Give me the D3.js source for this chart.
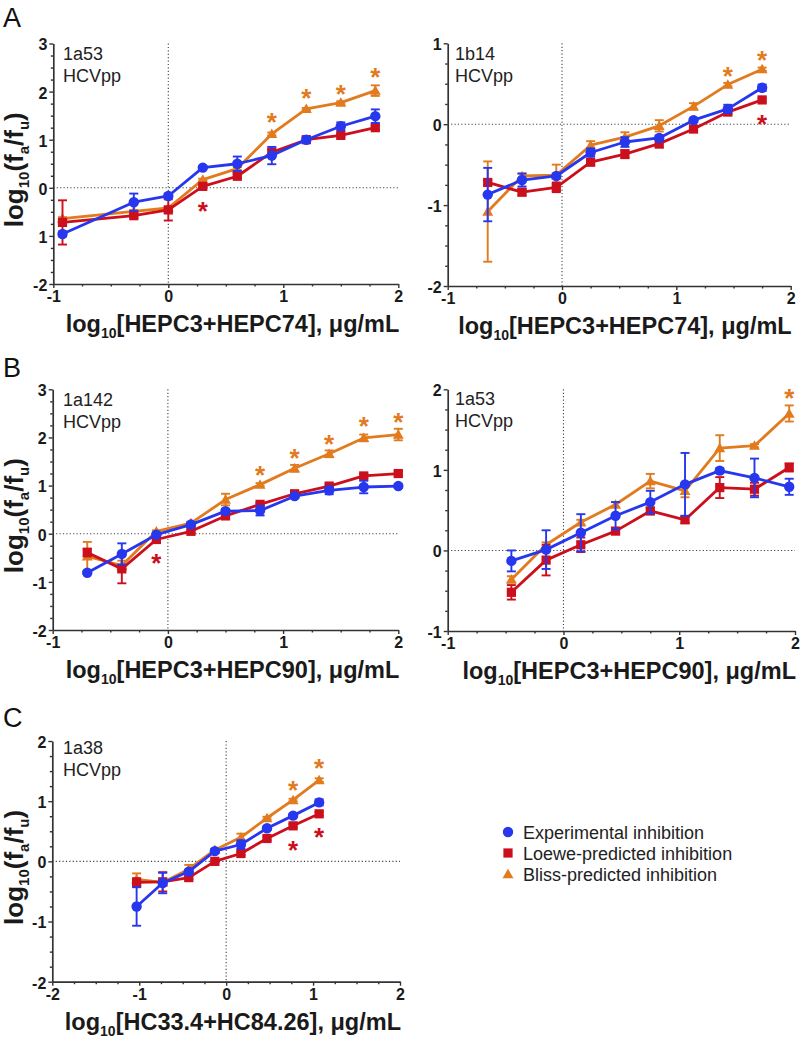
<!DOCTYPE html>
<html><head><meta charset="utf-8">
<script src="https://cdn.jsdelivr.net/npm/d3@7"></script>
<style>body{margin:0;background:#fff}svg{display:block;font-family:Arial,"Liberation Sans",sans-serif}</style>
</head><body><svg id="c" width="802" height="1042"></svg>
<script>
// ---------- DATA ----------
// Panel A1: 1a53 HCVpp, HEPC3+HEPC74
const xA1 = [-0.92, -0.3, 0, 0.3, 0.6, 0.9, 1.2, 1.5, 1.8];
const expA1 = [-0.96, -0.30, -0.17, 0.42, 0.50, 0.67, 1.00, 1.28, 1.49];
const expErrA1 = [0.05, 0.18, 0.05, 0.03, 0.15, 0.18, 0.06, 0.08, 0.14];
const loeweA1 = [-0.72, -0.58, -0.46, 0.03, 0.24, 0.74, 1.00, 1.09, 1.25];
const loeweErrA1 = [0.46, 0.04, 0.22, 0.03, 0.04, 0.05, 0.04, 0.03, 0.04];
const blissA1 = [-0.64, -0.49, -0.42, 0.17, 0.40, 1.12, 1.64, 1.77, 2.02];
const blissErrA1 = [0.03, 0.03, 0.03, 0.02, 0.03, 0.03, 0.02, 0.03, 0.11];
const starBlissXA1 = [0.9, 1.2, 1.5, 1.8], starBlissYA1 = [1.50, 2.01, 2.08, 2.45];
const starLoeweXA1 = [0.3], starLoeweYA1 = [-0.35];

// Panel A2: 1b14 HCVpp
const xA2 = [-0.65, -0.35, -0.05, 0.25, 0.55, 0.85, 1.15, 1.45, 1.75];
const expA2 = [-0.87, -0.69, -0.64, -0.35, -0.22, -0.17, 0.05, 0.19, 0.45];
const expErrA2 = [0.33, 0.08, 0.03, 0.05, 0.06, 0.03, 0.02, 0.05, 0.04];
const loeweA2 = [-0.72, -0.84, -0.78, -0.47, -0.37, -0.24, -0.06, 0.15, 0.30];
const loeweErrA2 = [0.03, 0.04, 0.06, 0.03, 0.05, 0.05, 0.02, 0.03, 0.02];
const blissA2 = [-1.08, -0.64, -0.63, -0.26, -0.16, -0.02, 0.22, 0.49, 0.68];
const blissErrA2 = [0.62, 0.03, 0.13, 0.05, 0.06, 0.07, 0.04, 0.02, 0.02];
const starBlissXA2 = [1.45, 1.75], starBlissYA2 = [0.68, 0.87];
const starLoeweXA2 = [1.75], starLoeweYA2 = [0.09];

// Panel B1: 1a142 HCVpp, HEPC3+HEPC90
const xB1 = [-0.7, -0.4, -0.1, 0.2, 0.5, 0.8, 1.1, 1.4, 1.7, 2.0];
const expB1 = [-0.81, -0.42, -0.02, 0.19, 0.47, 0.48, 0.78, 0.90, 0.97, 0.99];
const expErrB1 = [0.03, 0.22, 0.04, 0.05, 0.04, 0.10, 0.04, 0.08, 0.13, 0.04];
const loeweB1 = [-0.39, -0.73, -0.12, 0.05, 0.37, 0.61, 0.83, 0.99, 1.20, 1.25];
const loeweErrB1 = [0.08, 0.30, 0.03, 0.03, 0.04, 0.03, 0.03, 0.04, 0.04, 0.05];
const blissB1 = [-0.47, -0.66, 0.05, 0.22, 0.71, 1.02, 1.36, 1.66, 1.99, 2.06];
const blissErrB1 = [0.30, 0.10, 0.02, 0.03, 0.12, 0.03, 0.07, 0.07, 0.07, 0.12];
const starBlissXB1 = [0.8, 1.1, 1.4, 1.7, 2.0], starBlissYB1 = [1.36, 1.72, 2.00, 2.37, 2.46];
const starLoeweXB1 = [-0.1], starLoeweYB1 = [-0.47];

// Panel B2: 1a53 HCVpp, HEPC3+HEPC90
const xB2 = [-0.45, -0.15, 0.15, 0.45, 0.75, 1.05, 1.35, 1.65, 1.95];
const expB2 = [-0.13, 0.01, 0.22, 0.43, 0.60, 0.82, 0.99, 0.90, 0.79];
const expErrB2 = [0.13, 0.24, 0.23, 0.17, 0.14, 0.39, 0.03, 0.24, 0.10];
const loeweB2 = [-0.52, -0.12, 0.07, 0.24, 0.49, 0.38, 0.78, 0.76, 1.03];
const loeweErrB2 = [0.09, 0.19, 0.09, 0.03, 0.04, 0.04, 0.13, 0.08, 0.05];
const blissB2 = [-0.36, 0.07, 0.35, 0.57, 0.86, 0.74, 1.27, 1.30, 1.70];
const blissErrB2 = [0.04, 0.03, 0.03, 0.03, 0.09, 0.08, 0.16, 0.02, 0.10];
const starBlissXB2 = [1.95], starBlissYB2 = [1.98];
const starLoeweXB2 = [], starLoeweYB2 = [];

// Panel C: 1a38 HCVpp, HC33.4+HC84.26
const xC = [-1.03, -0.73, -0.43, -0.13, 0.17, 0.47, 0.77, 1.07];
const expC = [-0.75, -0.36, -0.17, 0.17, 0.28, 0.55, 0.76, 0.98];
const expErrC = [0.32, 0.17, 0.03, 0.03, 0.07, 0.03, 0.03, 0.05];
const loeweC = [-0.35, -0.34, -0.27, 0.00, 0.13, 0.38, 0.59, 0.79];
const loeweErrC = [0.07, 0.16, 0.03, 0.02, 0.03, 0.03, 0.03, 0.03];
const blissC = [-0.30, -0.35, -0.13, 0.19, 0.40, 0.72, 1.02, 1.35];
const blissErrC = [0.10, 0.03, 0.07, 0.02, 0.06, 0.02, 0.02, 0.03];
const starBlissXC = [0.77, 1.07], starBlissYC = [1.30, 1.66];
const starLoeweXC = [0.77, 1.07], starLoeweYC = [0.30, 0.51];

// Tick labels
const yTicksA1 = [-2, -1, 0, 1, 2, 3], yTickLabelsA1 = ["-2", "1", "0", "1", "2", "3"];
const yTicksA2 = [-2, -1, 0, 1], yTickLabelsA2 = ["-2", "-1", "0", "1"];
const yTicksB1 = [-2, -1, 0, 1, 2, 3], yTickLabelsB1 = ["-2", "-1", "0", "1", "2", "3"];
const yTicksB2 = [-1, 0, 1, 2], yTickLabelsB2 = ["-1", "0", "1", "2"];
const yTicksC = [-2, -1, 0, 1, 2], yTickLabelsC = ["-2", "-1", "0", "1", "2"];
const xTicksAB = [-1, 0, 1, 2], xTickLabelsAB = ["-1", "0", "1", "2"];
const xTicksC = [-2, -1, 0, 1, 2], xTickLabelsC = ["-2", "-1", "0", "1", "2"];

const seriesNames = ["Experimental inhibition", "Loewe-predicted inhibition", "Bliss-predicted inhibition"];
const panelLetters = ["A", "B", "C"];

// ---------- STYLE / LAYOUT ----------
const COL = { exp: "#2637ee", loewe: "#cc0f1c", bliss: "#e27a1e" };
const svg = d3.select("#c");

const panels = [
  { x: xA1, exp: expA1, expErr: expErrA1, loewe: loeweA1, loeweErr: loeweErrA1, bliss: blissA1, blissErr: blissErrA1,
    sbx: starBlissXA1, sby: starBlissYA1, slx: starLoeweXA1, sly: starLoeweYA1,
    xd: [-1, 2], yd: [-2, 3], xr: [53.3, 398.3], yr: [284, 43.5], yt: yTicksA1, ytl: yTickLabelsA1, xt: xTicksAB, xtl: xTickLabelsAB,
    name: ["1a53", "HCVpp"], nameX: 63, nameY: 60, xlab: ["HEPC3+HEPC74"], showY: true },
  { x: xA2, exp: expA2, expErr: expErrA2, loewe: loeweA2, loeweErr: loeweErrA2, bliss: blissA2, blissErr: blissErrA2,
    sbx: starBlissXA2, sby: starBlissYA2, slx: starLoeweXA2, sly: starLoeweYA2,
    xd: [-1, 2], yd: [-2, 1], xr: [447.7, 790.7], yr: [286, 43.3], yt: yTicksA2, ytl: yTickLabelsA2, xt: xTicksAB, xtl: xTickLabelsAB,
    name: ["1b14", "HCVpp"], nameX: 455, nameY: 60, xlab: ["HEPC3+HEPC74"], showY: false },
  { x: xB1, exp: expB1, expErr: expErrB1, loewe: loeweB1, loeweErr: loeweErrB1, bliss: blissB1, blissErr: blissErrB1,
    sbx: starBlissXB1, sby: starBlissYB1, slx: starLoeweXB1, sly: starLoeweYB1,
    xd: [-1, 2], yd: [-2, 3], xr: [52.7, 398.3], yr: [630, 389.3], yt: yTicksB1, ytl: yTickLabelsB1, xt: xTicksAB, xtl: xTickLabelsAB,
    name: ["1a142", "HCVpp"], nameX: 63, nameY: 406, xlab: ["HEPC3+HEPC90"], showY: true },
  { x: xB2, exp: expB2, expErr: expErrB2, loewe: loeweB2, loeweErr: loeweErrB2, bliss: blissB2, blissErr: blissErrB2,
    sbx: starBlissXB2, sby: starBlissYB2, slx: starLoeweXB2, sly: starLoeweYB2,
    xd: [-1, 2], yd: [-1, 2], xr: [447.7, 795], yr: [631, 389.3], yt: yTicksB2, ytl: yTickLabelsB2, xt: xTicksAB, xtl: xTickLabelsAB,
    name: ["1a53", "HCVpp"], nameX: 455, nameY: 405, xlab: ["HEPC3+HEPC90"], showY: false },
  { x: xC, exp: expC, expErr: expErrC, loewe: loeweC, loeweErr: loeweErrC, bliss: blissC, blissErr: blissErrC,
    sbx: starBlissXC, sby: starBlissYC, slx: starLoeweXC, sly: starLoeweYC,
    xd: [-2, 2], yd: [-2, 2], xr: [52.3, 400], yr: [981.7, 741], yt: yTicksC, ytl: yTickLabelsC, xt: xTicksC, xtl: xTickLabelsC,
    name: ["1a38", "HCVpp"], nameX: 63, nameY: 754, xlab: ["HC33.4+HC84.26"], showY: true }
];

const AX = "#333";
const sym = {
  exp: d3.symbol().type(d3.symbolCircle).size(85),
  loewe: d3.symbol().type(d3.symbolSquare).size(85),
  bliss: d3.symbol().type(d3.symbolTriangle).size(52)
};

function minorTicks(d) {
  const out = [];
  for (let v = d[0]; v <= d[1] + 1e-9; v += 0.25) if (Math.abs(v - Math.round(v)) > 1e-6) out.push(v);
  return out;
}

panels.forEach(p => {
  const x = d3.scaleLinear().domain(p.xd).range(p.xr);
  const y = d3.scaleLinear().domain(p.yd).range(p.yr);
  const g = svg.append("g");

  // dotted reference lines
  g.append("line").attr("x1", x(0)).attr("x2", x(0)).attr("y1", p.yr[1]).attr("y2", p.yr[0])
    .attr("stroke", "#444").attr("stroke-width", 1.1).attr("stroke-dasharray", "1.2,2.2");
  g.append("line").attr("x1", p.xr[0]).attr("x2", p.xr[1]).attr("y1", y(0)).attr("y2", y(0))
    .attr("stroke", "#444").attr("stroke-width", 1.1).attr("stroke-dasharray", "1.2,2.2");

  // axes
  const yAxis = g.append("g").attr("transform", `translate(${p.xr[0]},0)`)
    .call(d3.axisLeft(y).tickValues(p.yt).tickFormat((d, i) => p.ytl[i]).tickSize(4).tickSizeOuter(0).tickPadding(2));
  g.append("g").attr("transform", `translate(${p.xr[0]},0)`)
    .call(d3.axisLeft(y).tickValues(minorTicks(p.yd)).tickFormat("").tickSize(2.5).tickSizeOuter(0))
    .select(".domain").remove();
  const xAxis = g.append("g").attr("transform", `translate(0,${p.yr[0]})`)
    .call(d3.axisBottom(x).tickValues(p.xt).tickFormat((d, i) => p.xtl[i]).tickSize(4).tickSizeOuter(0).tickPadding(3));
  g.append("g").attr("transform", `translate(0,${p.yr[0]})`)
    .call(d3.axisBottom(x).tickValues(minorTicks(p.xd)).tickFormat("").tickSize(2.5).tickSizeOuter(0))
    .select(".domain").remove();
  g.selectAll(".domain").attr("stroke", AX).attr("stroke-width", 1.7);
  g.selectAll(".tick line").attr("stroke", AX).attr("stroke-width", 1.4);
  g.selectAll(".tick text").attr("fill", "#1a1a1a")
    .style("font-size", "16px").style("font-weight", "bold").style("font-family", "Arial, 'Liberation Sans', sans-serif");
  yAxis.selectAll(".tick text").attr("dy", "0.4em");

  // series
  const order = [["bliss", "blissErr"], ["loewe", "loeweErr"], ["exp", "expErr"]];
  order.forEach(([k, ke]) => {
    const pts = p.x.map((xv, i) => ({ x: xv, y: p[k][i], e: p[ke][i] }));
    const sg = g.append("g");
    pts.forEach(d => {
      const cx = x(d.x), y1 = y(d.y - d.e), y2 = y(d.y + d.e);
      sg.append("line").attr("x1", cx).attr("x2", cx).attr("y1", y1).attr("y2", y2).attr("stroke", COL[k]).attr("stroke-width", 1.9);
      [y1, y2].forEach(yy => sg.append("line").attr("x1", cx - 4.5).attr("x2", cx + 4.5).attr("y1", yy).attr("y2", yy)
        .attr("stroke", COL[k]).attr("stroke-width", 1.9));
    });
    sg.append("path").datum(pts).attr("fill", "none").attr("stroke", COL[k]).attr("stroke-width", 2.8)
      .attr("stroke-linejoin", "round")
      .attr("d", d3.line().x(d => x(d.x)).y(d => y(d.y)));
    sg.selectAll(".m").data(pts).join("path").attr("d", sym[k]())
      .attr("transform", d => `translate(${x(d.x)},${y(d.y) + (k === "bliss" ? 1 : 0)})`).attr("fill", COL[k]);
  });

  // significance stars
  p.sbx.forEach((sx, i) => g.append("text").attr("x", x(sx)).attr("y", y(p.sby[i])).attr("dy", "0.6em")
    .attr("text-anchor", "middle").attr("font-size", 26).attr("font-weight", "bold").attr("fill", COL.bliss).text("*"));
  p.slx.forEach((sx, i) => g.append("text").attr("x", x(sx)).attr("y", y(p.sly[i])).attr("dy", "0.6em")
    .attr("text-anchor", "middle").attr("font-size", 26).attr("font-weight", "bold").attr("fill", COL.loewe).text("*"));

  // panel name
  const nt = g.append("text").attr("x", p.nameX).attr("y", p.nameY).attr("font-size", 18).attr("fill", "#222");
  nt.append("tspan").attr("x", p.nameX).text(p.name[0]);
  nt.append("tspan").attr("x", p.nameX).attr("dy", 22).text(p.name[1]);

  // x-axis title
  const xt = g.append("text").attr("x", p.xr[1] + 1).attr("y", p.yr[0] + 48).attr("text-anchor", "end")
    .attr("font-size", 23.5).attr("font-weight", "bold").attr("fill", "#1a1a1a");
  xt.append("tspan").text("log");
  xt.append("tspan").attr("font-size", 14).attr("dy", 6).text("10");
  xt.append("tspan").attr("dy", -6).text("[" + p.xlab[0] + "], μg/mL");

  // y-axis title
  if (p.showY) {
    const cy = (p.yr[0] + p.yr[1]) / 2 + 6;
    const yt = g.append("text").attr("transform", `translate(23,${cy}) rotate(-90)`).attr("text-anchor", "middle")
      .attr("font-size", 26).attr("font-weight", "bold").attr("fill", "#1a1a1a");
    yt.append("tspan").text("log");
    yt.append("tspan").attr("font-size", 15).attr("dy", 6).text("10");
    yt.append("tspan").attr("dy", -6).text("(f");
    yt.append("tspan").attr("font-size", 15).attr("dy", 6).text("a");
    yt.append("tspan").attr("dy", -6).text("/f");
    yt.append("tspan").attr("font-size", 15).attr("dy", 6).text("u");
    yt.append("tspan").attr("dy", -6).text(")");
  }
});

// panel letters
[[3, 27], [3, 377], [3, 727]].forEach((pos, i) =>
  svg.append("text").attr("x", pos[0]).attr("y", pos[1]).attr("font-size", 27).attr("fill", "#111").text(panelLetters[i]));

// legend
const legKeys = ["exp", "loewe", "bliss"];
legKeys.forEach((k, i) => {
  const cy = 832 + i * 21;
  svg.append("path").attr("d", sym[k]()).attr("transform", `translate(508,${cy + (k === "bliss" ? 1 : 0)})`).attr("fill", COL[k]);
  svg.append("text").attr("x", 523).attr("y", cy + 6.5).attr("font-size", 18).attr("fill", "#222").text(seriesNames[i]);
});
</script></body></html>
